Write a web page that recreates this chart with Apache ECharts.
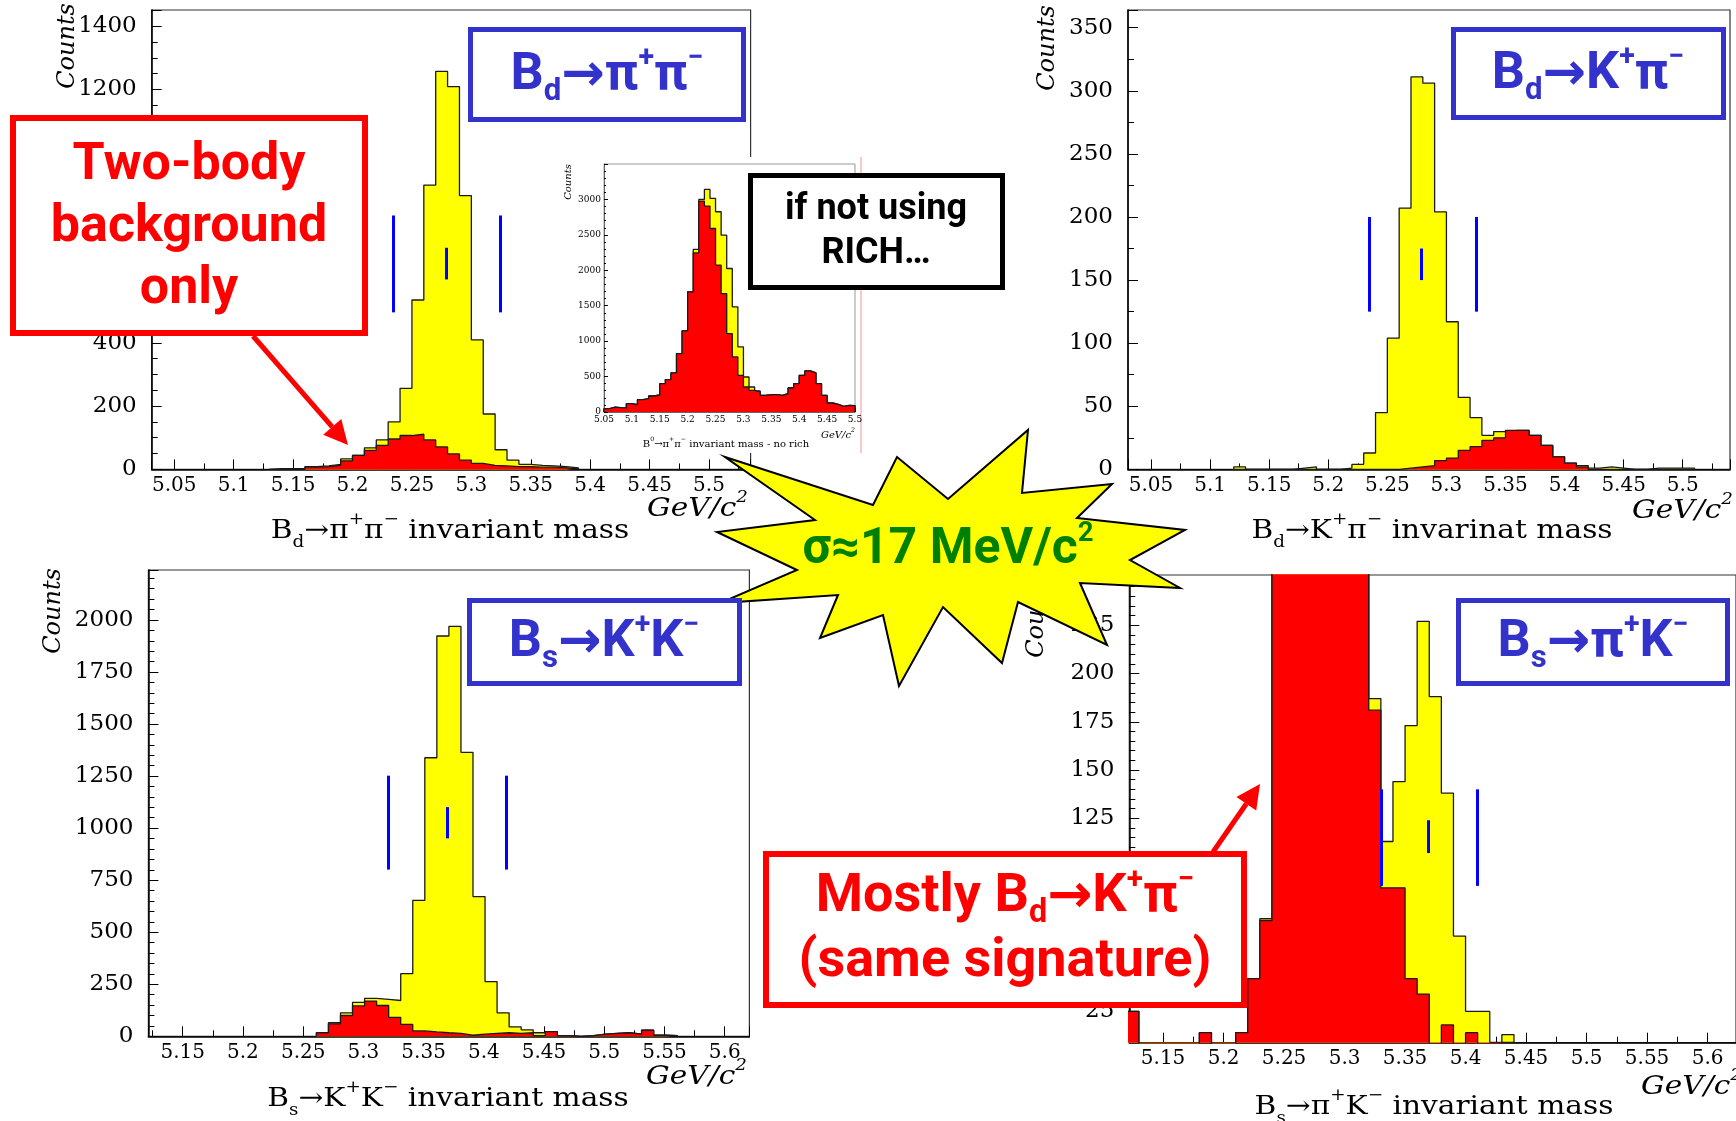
<!DOCTYPE html>
<html>
<head>
<meta charset="utf-8">
<script src="https://cdn.jsdelivr.net/npm/echarts@6/dist/echarts.min.js"></script>
<style>
html,body{margin:0;padding:0;background:#fff;}
#main{width:1736px;height:1121px;}
</style>
</head>
<body>
<div id="main"></div>
<script>
var BIN = 0.01;

// Bd -> pi+ pi-  (10 MeV bins)
var pipiStart = 5.13;
var pipiAll = [2,2,2,9,11,16,33,44,68,93,150,256,535,898,1257,1209,865,409,175,62,29,16,13,11,9,5];
var pipiBkg = [0,0,0,7,9,13,27,44,60,76,96,107,111,93,71,49,29,19,13,11,9,9,7,7,5,2];
var pipiCuts = [5.234, 5.279, 5.324];
var pipiCutY = [496, 802];
var pipiMidY = [600, 700];
var pipiX = [5.031, 5.535], pipiY = [0, 1451];

// inset: pi+ pi- without RICH
var noRichStart = 5.05;
var noRichAll = [47,70,61,57,118,104,174,188,226,240,400,457,551,824,1145,1696,2294,3000,3141,3014,2826,2496,2025,1484,918,494,353,297,236,245,245,236,259,339,400,518,579,551,400,236,127,108,80,94,90];
var noRichBkg = [47,70,61,57,118,104,174,188,226,240,400,457,551,824,1145,1696,2247,2977,2906,2590,2073,1672,1107,777,518,353,306,283,236,245,245,236,259,339,400,518,579,551,400,236,127,108,80,94,90];
var noRichX = [5.05, 5.5], noRichY = [0, 3500];

// Bd -> K+ pi-
var kpiStart = 5.12;
var kpiAll = [2,0,0,0,0,1,2,0,0,1,4,13,45,104,207,311,306,204,117,57,41,27,30,31,31,27,19,10,5,3,1,2,1,0,0,1,1,1,1];
var kpiBkg = [0,0,0,0,0,0,0,0,0,0,0,0,0,0,1,2,3,7,9,15,18,23,25,31,31,27,19,10,5,2,0,0,0,0,0,0,0,0,0];
var kpiCuts = [5.235, 5.279, 5.325];
var kpiCutY = [125, 200];
var kpiMidY = [150, 175];
var kpiX = [5.0305, 5.540], kpiY = [0, 364];

// Bs -> K+ K-
var kkStart = 5.261;
var kkAll = [17,65,113,163,182,177,172,301,653,1338,1923,1969,1364,671,263,113,45,31,17,22,3,0,3,10,14,17,10,29,5,3];
var kkBkg = [17,60,100,146,169,148,91,57,26,21,17,14,5,10,14,17,14,17,3,22,3,0,3,10,14,17,10,29,5,3];
var kkCuts = [5.321, 5.3695, 5.419];
var kkCutY = [801, 1252];
var kkMidY = [951, 1101];
var kkX = [5.1215, 5.6205], kkY = [0, 2240];

// Bs -> pi+ K-
var pikStart = 5.12;
var pikAll = [25,0,0,0,0,0,14,0,0,14,42,73,265,330,380,400,390,350,300,262,187,113,144,173,227,188,138,64,25,25,9,13];
var pikBkg = [25,0,0,0,0,0,14,0,0,14,42,72,265,330,380,400,390,350,300,262,181,89,89,42,34,0,18,0,14,0,0,9];
var pikCuts = [5.330, 5.3695, 5.4095];
var pikCutY = [90, 140];
var pikMidY = [107, 124];
var pikX = [5.1221, 5.6235], pikY = [8.8, 251];

function stepData(start, counts) {
	var pts = [[start, 0]];
	for (var i = 0; i < counts.length; i++) {
		pts.push([+(start + i * BIN).toFixed(4), counts[i]]);
	}
	pts.push([+(start + counts.length * BIN).toFixed(4), 0]);
	return pts;
}

function fmt(v) { return String(+(+v).toFixed(3)); }

function xAx(gi, range, zl, small) {
	return {
		type: 'value', gridIndex: gi, min: range[0], max: range[1],
		minInterval: 0.05, maxInterval: 0.05, splitNumber: 10,
		zlevel: zl, z: small ? 6 : 0,
		axisLine: {show: true, onZero: false, lineStyle: {color: small ? '#666' : '#000', width: small ? 1 : 1.5}},
		axisTick: {show: true, inside: true, length: small ? 4 : 10, lineStyle: {color: '#000', width: 1}},
		minorTick: {show: true, splitNumber: 2, length: small ? 2 : 6, lineStyle: {color: '#000', width: 1}},
		splitLine: {show: false},
		axisLabel: {
			showMinLabel: !!small, showMaxLabel: !!small, color: '#000',
			fontFamily: 'DejaVu Serif', fontSize: small ? 9 : 20, margin: small ? 3 : 6,
			formatter: fmt
		}
	};
}

function yAx(gi, range, step, minor, showMin, zl, small) {
	return {
		type: 'value', gridIndex: gi, min: range[0], max: range[1],
		minInterval: step, maxInterval: step, splitNumber: 8,
		zlevel: zl, z: small ? 6 : 0,
		axisLine: {show: true, onZero: false, lineStyle: {color: small ? '#666' : '#000', width: small ? 1 : 1.5}},
		axisTick: {show: true, inside: true, length: small ? 4 : 10, lineStyle: {color: '#000', width: 1}},
		minorTick: {show: true, splitNumber: minor, length: small ? 2 : 6, lineStyle: {color: '#000', width: 1}},
		splitLine: {show: false},
		axisLabel: {
			showMinLabel: showMin, showMaxLabel: false, color: '#000',
			fontFamily: 'DejaVu Serif', fontSize: small ? 9 : 23, margin: small ? 3 : 15,
			formatter: fmt
		}
	};
}

function hist(gi, start, counts, fill, z, zl) {
	return {
		type: 'line', xAxisIndex: gi, yAxisIndex: gi,
		data: stepData(start, counts), step: 'end',
		symbol: 'none', showSymbol: false, silent: true, clip: true,
		lineStyle: {color: '#1a1a1a', width: 1.3},
		areaStyle: {color: fill, opacity: 1, origin: 'start'},
		z: z, zlevel: zl
	};
}

function cutMarks(xs, sideY, midY) {
	return {
		silent: true, symbol: ['none', 'none'], label: {show: false},
		lineStyle: {color: '#0000ff', width: 3, type: 'solid'},
		data: [
			[{coord: [xs[0], sideY[0]]}, {coord: [xs[0], sideY[1]]}],
			[{coord: [xs[1], midY[0]]}, {coord: [xs[1], midY[1]]}],
			[{coord: [xs[2], sideY[0]]}, {coord: [xs[2], sideY[1]]}]
		]
	};
}

var series = [];
function panel(gi, start, all, bkg, cuts, cutY, midY, zl, zb) {
	series.push(hist(gi, start, all, '#ffff00', zb, zl));
	var red = hist(gi, start, bkg, '#ff0000', zb + 1, zl);
	if (cuts) red.markLine = cutMarks(cuts, cutY, midY);
	series.push(red);
}
panel(0, pipiStart, pipiAll, pipiBkg, pipiCuts, pipiCutY, pipiMidY, 0, 2);
panel(1, kpiStart, kpiAll, kpiBkg, kpiCuts, kpiCutY, kpiMidY, 0, 2);
panel(2, kkStart, kkAll, kkBkg, kkCuts, kkCutY, kkMidY, 0, 2);
panel(3, pikStart, pikAll, pikBkg, pikCuts, pikCutY, pikMidY, 0, 2);
panel(4, noRichStart, noRichAll, noRichBkg, null, null, null, 1, 7);

// ---- text helpers ----
var SERIF = 'DejaVu Serif';
function serifRich(size) {
	return {
		n: {fontFamily: SERIF, fontSize: size, lineHeight: size * 1.5, fill: '#000'},
		it: {fontFamily: SERIF, fontStyle: 'italic', fontSize: size, lineHeight: size * 1.5, fill: '#000'},
		sb: {fontFamily: SERIF, fontSize: size * 0.62, lineHeight: size * 0.62, verticalAlign: 'bottom', fill: '#000'},
		sp: {fontFamily: SERIF, fontSize: size * 0.62, lineHeight: size * 0.62, verticalAlign: 'top', fill: '#000'},
		spi: {fontFamily: SERIF, fontStyle: 'italic', fontSize: size * 0.62, lineHeight: size * 0.62, verticalAlign: 'top', fill: '#000'}
	};
}
var COMIC = 'Roboto, "DejaVu Sans", sans-serif';
function comicRich(size, color) {
	return {
		n: {fontFamily: COMIC, fontWeight: 'bold', fontSize: size, lineHeight: size * 1.2, fill: color},
		a: {fontFamily: '"DejaVu Sans"', fontWeight: 'bold', fontSize: size, lineHeight: size * 1.2, fill: color},
		sb: {fontFamily: COMIC, fontWeight: 'bold', fontSize: size * 0.6, lineHeight: size * 0.6, verticalAlign: 'bottom', fill: color},
		sp: {fontFamily: COMIC, fontWeight: 'bold', fontSize: size * 0.55, lineHeight: size * 0.55, verticalAlign: 'top', fill: color}
	};
}

function txt(x, y, text, rich, align, zl, rot, extra) {
	var el = {
		type: 'text', x: x, y: y, zlevel: zl, z: 10, silent: true,
		rotation: rot || 0,
		style: {text: text, rich: rich, align: align || 'center', verticalAlign: 'middle'}
	};
	if (extra) for (var k in extra) el[k] = extra[k];
	return el;
}
// ROOT text in the source is stretched sideways
var WIDE = {scaleX: 1.14};

function box(x, y, w, h, color, lw) {
	return {
		type: 'rect', zlevel: 2, z: 5, silent: true,
		shape: {x: x, y: y, width: w, height: h},
		style: {fill: '#fff', stroke: color, lineWidth: lw}
	};
}

function arrow(sx, sy, tx, ty, color) {
	var dx = tx - sx, dy = ty - sy, len = Math.sqrt(dx * dx + dy * dy);
	var ux = dx / len, uy = dy / len, hl = 24, hw = 12;
	var bx = tx - ux * hl, by = ty - uy * hl;
	return [
		{type: 'line', zlevel: 2, z: 6, silent: true,
			shape: {x1: sx, y1: sy, x2: bx, y2: by},
			style: {stroke: color, lineWidth: 5}},
		{type: 'polygon', zlevel: 2, z: 6, silent: true,
			shape: {points: [[tx, ty], [bx - uy * hw, by + ux * hw], [bx + uy * hw, by - ux * hw]]},
			style: {fill: color}}
	];
}

var s26 = serifRich(26);
var inS = serifRich(10);
var countsRich = {c: {fontFamily: SERIF, fontStyle: 'italic', fontSize: 24, fill: '#000'}};
var countsSmall = {c: {fontFamily: SERIF, fontStyle: 'italic', fontSize: 10, fill: '#000'}};

var graphics = [
	// panel titles
	txt(68, 46, '{c|Counts}', countsRich, 'center', 0, Math.PI / 2),
	txt(748, 509, '{it|GeV/c}{spi|2}', s26, 'right', 0, 0, WIDE),
	txt(450, 531, '{n|B}{sb|d}{n|\u2192\u03c0}{sp|+}{n|\u03c0}{sp|\u2212}{n| invariant mass}', s26, 'center', 0, 0, WIDE),

	txt(1048, 48, '{c|Counts}', countsRich, 'center', 0, Math.PI / 2),
	txt(1733, 511, '{it|GeV/c}{spi|2}', s26, 'right', 0, 0, WIDE),
	txt(1432, 531, '{n|B}{sb|d}{n|\u2192K}{sp|+}{n|\u03c0}{sp|\u2212}{n| invarinat mass}', s26, 'center', 0, 0, WIDE),

	txt(54, 611, '{c|Counts}', countsRich, 'center', 0, Math.PI / 2),
	txt(747, 1077, '{it|GeV/c}{spi|2}', s26, 'right', 0, 0, WIDE),
	txt(448, 1099, '{n|B}{sb|s}{n|\u2192K}{sp|+}{n|K}{sp|\u2212}{n| invariant mass}', s26, 'center', 0, 0, WIDE),

	txt(1037, 615, '{c|Counts}', countsRich, 'center', 0, Math.PI / 2),
	txt(1742, 1087, '{it|GeV/c}{spi|2}', s26, 'right', 0, 0, WIDE),
	txt(1434, 1107, '{n|B}{sb|s}{n|\u2192\u03c0}{sp|+}{n|K}{sp|\u2212}{n| invariant mass}', s26, 'center', 0, 0, WIDE),

	// inset backdrop
	{type: 'rect', zlevel: 1, z: 1, silent: true, shape: {x: 555, y: 157, width: 306, height: 296}, style: {fill: '#fff'}},
	{type: 'line', zlevel: 1, z: 2, silent: true, shape: {x1: 861, y1: 157, x2: 861, y2: 453}, style: {stroke: '#ff9090', lineWidth: 1}},
	txt(568, 182, '{c|Counts}', countsSmall, 'center', 1, Math.PI / 2),
	txt(855, 435, '{it|GeV/c}{spi|2}', inS, 'right', 1),
	txt(726, 444, '{n|B}{sp|0}{n|\u2192\u03c0}{sp|+}{n|\u03c0}{sp|\u2212}{n| invariant mass - no rich}', inS, 'center', 1),

	// annotation boxes
	box(13, 118, 352, 215, '#ff0000', 6),
	box(470.5, 29.5, 273, 90, '#3333cc', 5),
	box(1453.5, 29.5, 270, 88, '#3333cc', 5),
	box(469.5, 600.5, 270, 83, '#3333cc', 5),
	box(1458.5, 600.5, 269, 83, '#3333cc', 5),
	box(750.5, 175.5, 252, 112, '#000', 5),
	box(766, 854, 478, 151, '#ff0000', 6),

	txt(189, 228, '{n|Two-body}\n{n|background}\n{n|only}', comicRich(52, '#ff0000'), 'center', 2, 0, {z: 12}),
	txt(607, 76, '{n|B}{sb|d}{a|\u2192}{n|\u03c0}{sp|+}{n|\u03c0}{sp|\u2212}', comicRich(52, '#3333cc'), 'center', 2, 0, {z: 12}),
	txt(1588, 75, '{n|B}{sb|d}{a|\u2192}{n|K}{sp|+}{n|\u03c0}{sp|\u2212}', comicRich(52, '#3333cc'), 'center', 2, 0, {z: 12}),
	txt(604, 643, '{n|B}{sb|s}{a|\u2192}{n|K}{sp|+}{n|K}{sp|\u2212}', comicRich(52, '#3333cc'), 'center', 2, 0, {z: 12}),
	txt(1593, 643, '{n|B}{sb|s}{a|\u2192}{n|\u03c0}{sp|+}{n|K}{sp|\u2212}', comicRich(52, '#3333cc'), 'center', 2, 0, {z: 12}),
	txt(876, 232, '{n|if not using}\n{n|RICH\u2026}', comicRich(36, '#000'), 'center', 2, 0, {z: 12}),
	txt(1005, 930, '{n|Mostly B}{sb|d}{a|\u2192}{n|K}{sp|+}{n|\u03c0}{sp|\u2212}\n{n|(same signature)}', comicRich(54, '#ff0000'), 'center', 2, 0, {z: 12}),

	// star burst
	{type: 'polygon', zlevel: 2, z: 4, silent: true,
		shape: {points: [[725,457],[873,505],[897,457],[948,499],[1028,430],[1022,493],[1112,484],[1077,518],
			[1185,530],[1130,560],[1180,588],[1080,583],[1107,645],[1018,602],[1002,663],[943,607],
			[899,686],[883,615],[820,638],[838,595],[720,603],[797,570],[717,532],[815,520]]},
		style: {fill: '#ffff00', stroke: '#000', lineWidth: 2, lineJoin: 'miter'}},
	txt(948, 550, '{n|\u03c3\u224817 MeV/c}{sp|2}', comicRich(50, '#008000'), 'center', 2, 0, {z: 12})
];
graphics = graphics.concat(arrow(253, 336, 348, 445, '#ff0000'));
graphics = graphics.concat(arrow(1213, 852, 1260, 784, '#ff0000'));

var option = {
	animation: false,
	backgroundColor: '#fff',
	grid: [
		{left: 151.7, top: 10, width: 598.9, height: 459.4, show: true, borderColor: '#333', borderWidth: 1.2, zlevel: 0},
		{left: 1128, top: 10, width: 602, height: 459.4, show: true, borderColor: '#333', borderWidth: 1.2, zlevel: 0},
		{left: 148.4, top: 570, width: 601, height: 466.3, show: true, borderColor: '#333', borderWidth: 1.2, zlevel: 0},
		{left: 1129.3, top: 575, width: 617, height: 467.7, show: true, borderColor: '#333', borderWidth: 1.2, zlevel: 0},
		{left: 604, top: 164, width: 251, height: 248, show: true, borderColor: '#999', borderWidth: 1, zlevel: 1, z: 5}
	],
	xAxis: [
		xAx(0, pipiX, 0), xAx(1, kpiX, 0), xAx(2, kkX, 0), xAx(3, pikX, 0), xAx(4, noRichX, 1, true)
	],
	yAxis: [
		yAx(0, pipiY, 200, 4, true, 0),
		yAx(1, kpiY, 50, 2, true, 0),
		yAx(2, kkY, 250, 5, true, 0),
		yAx(3, pikY, 25, 5, false, 0),
		yAx(4, noRichY, 500, 5, true, 1, true)
	],
	series: series,
	graphic: {elements: graphics}
};

var chart = echarts.init(document.getElementById('main'));
chart.setOption(option);
</script>
</body>
</html>
